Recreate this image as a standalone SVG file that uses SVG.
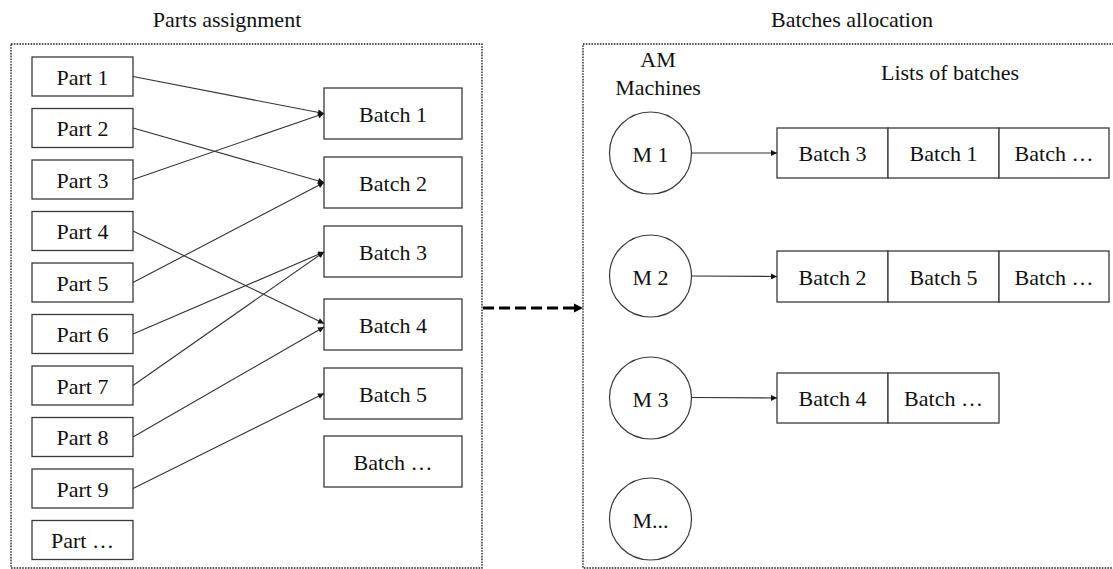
<svg xmlns="http://www.w3.org/2000/svg" width="1113" height="569" viewBox="0 0 1113 569">
<style>
text{font-family:"Liberation Serif","Times New Roman","DejaVu Serif",serif;font-size:22px;fill:#111;text-anchor:middle}
.box{fill:#fff;stroke:#3a3a3a;stroke-width:1.3}
.circ{fill:#fff;stroke:#3a3a3a;stroke-width:1.2}
.frame{fill:none;stroke:#222;stroke-width:1.4;stroke-dasharray:1.6 1.2}
.ln{fill:none;stroke:#333;stroke-width:1.1;marker-end:url(#ah)}
.dash{fill:none;stroke:#000;stroke-width:3;stroke-dasharray:11 5;marker-end:url(#ahb)}
</style>
<defs>
<marker id="ah" viewBox="0 0 10 10" refX="10" refY="5" markerWidth="7" markerHeight="6" markerUnits="userSpaceOnUse" orient="auto">
<path d="M0,0 L10,5 L0,10 z" fill="#111"/>
</marker>
<marker id="ahb" viewBox="0 0 10 10" refX="0" refY="5" markerWidth="9" markerHeight="10" markerUnits="userSpaceOnUse" orient="auto">
<path d="M0,0 L10,5 L0,10 z" fill="#000"/>
</marker>
</defs>

<g id="titles">
<text x="227" y="27">Parts assignment</text>
<text x="852" y="27">Batches allocation</text>
<text x="658" y="67">AM</text>
<text x="658" y="95">Machines</text>
<text x="950" y="80">Lists of batches</text>
</g>

<g id="frames">
<rect class="frame" x="11" y="44" width="471" height="524"/>
<rect class="frame" x="583" y="44" width="540" height="524"/>
</g>

<g id="part1"><rect class="box" x="32" y="57" width="101" height="39"/><text x="82.5" y="84.5">Part 1</text></g>
<g id="part2"><rect class="box" x="32" y="108.5" width="101" height="39"/><text x="82.5" y="136">Part 2</text></g>
<g id="part3"><rect class="box" x="32" y="160" width="101" height="39"/><text x="82.5" y="187.5">Part 3</text></g>
<g id="part4"><rect class="box" x="32" y="211.5" width="101" height="39"/><text x="82.5" y="239">Part 4</text></g>
<g id="part5"><rect class="box" x="32" y="263" width="101" height="39"/><text x="82.5" y="290.5">Part 5</text></g>
<g id="part6"><rect class="box" x="32" y="314.5" width="101" height="39"/><text x="82.5" y="342">Part 6</text></g>
<g id="part7"><rect class="box" x="32" y="366" width="101" height="39"/><text x="82.5" y="393.5">Part 7</text></g>
<g id="part8"><rect class="box" x="32" y="417.5" width="101" height="39"/><text x="82.5" y="445">Part 8</text></g>
<g id="part9"><rect class="box" x="32" y="469" width="101" height="39"/><text x="82.5" y="496.5">Part 9</text></g>
<g id="partN"><rect class="box" x="32" y="520.5" width="101" height="39"/><text x="82.5" y="548">Part …</text></g>

<g id="batch1"><rect class="box" x="324" y="88" width="138" height="51"/><text x="393" y="121.5">Batch 1</text></g>
<g id="batch2"><rect class="box" x="324" y="157" width="138" height="51"/><text x="393" y="190.5">Batch 2</text></g>
<g id="batch3"><rect class="box" x="324" y="226" width="138" height="51"/><text x="393" y="259.5">Batch 3</text></g>
<g id="batch4"><rect class="box" x="324" y="299" width="138" height="51"/><text x="393" y="332.5">Batch 4</text></g>
<g id="batch5"><rect class="box" x="324" y="368" width="138" height="51"/><text x="393" y="401.5">Batch 5</text></g>
<g id="batchN"><rect class="box" x="324" y="436" width="138" height="51"/><text x="393" y="469.5">Batch …</text></g>

<g id="m1"><circle class="circ" cx="650.5" cy="153" r="41"/><text x="650.5" y="161.5">M 1</text></g>
<g id="m2"><circle class="circ" cx="650.5" cy="276" r="41"/><text x="650.5" y="284.5">M 2</text></g>
<g id="m3"><circle class="circ" cx="650.5" cy="398" r="41"/><text x="650.5" y="406.5">M 3</text></g>
<g id="mN"><circle class="circ" cx="650.5" cy="519" r="41"/><text x="650.5" y="527.5">M...</text></g>

<g id="list1">
<rect class="box" x="777" y="128" width="111" height="50"/><text x="832.5" y="161">Batch 3</text>
<rect class="box" x="888" y="128" width="111" height="50"/><text x="943.5" y="161">Batch 1</text>
<rect class="box" x="999" y="128" width="110" height="50"/><text x="1054" y="161">Batch …</text>
</g>
<g id="list2">
<rect class="box" x="777" y="251" width="111" height="51"/><text x="832.5" y="284.5">Batch 2</text>
<rect class="box" x="888" y="251" width="111" height="51"/><text x="943.5" y="284.5">Batch 5</text>
<rect class="box" x="999" y="251" width="110" height="51"/><text x="1054" y="284.5">Batch …</text>
</g>
<g id="list3">
<rect class="box" x="777" y="373" width="111" height="50"/><text x="832.5" y="406">Batch 4</text>
<rect class="box" x="888" y="373" width="111" height="50"/><text x="943.5" y="406">Batch …</text>
</g>

<g id="connectors">
<line class="ln" x1="133" y1="76.5" x2="324" y2="113.5"/>
<line class="ln" x1="133" y1="128" x2="324" y2="182.5"/>
<line class="ln" x1="133" y1="179.5" x2="324" y2="113.5"/>
<line class="ln" x1="133" y1="231" x2="324" y2="323.5"/>
<line class="ln" x1="133" y1="282.5" x2="324" y2="182.5"/>
<line class="ln" x1="133" y1="334" x2="324" y2="252"/>
<line class="ln" x1="133" y1="385.5" x2="324" y2="252"/>
<line class="ln" x1="133" y1="437" x2="324" y2="327"/>
<line class="ln" x1="133" y1="488.5" x2="324" y2="393.5"/>
<line class="ln" x1="692" y1="153" x2="777" y2="153"/>
<line class="ln" x1="692" y1="276" x2="777" y2="276.5"/>
<line class="ln" x1="692" y1="397.5" x2="777" y2="398"/>
<line class="dash" x1="483" y1="308" x2="574" y2="308"/>
</g>
</svg>
